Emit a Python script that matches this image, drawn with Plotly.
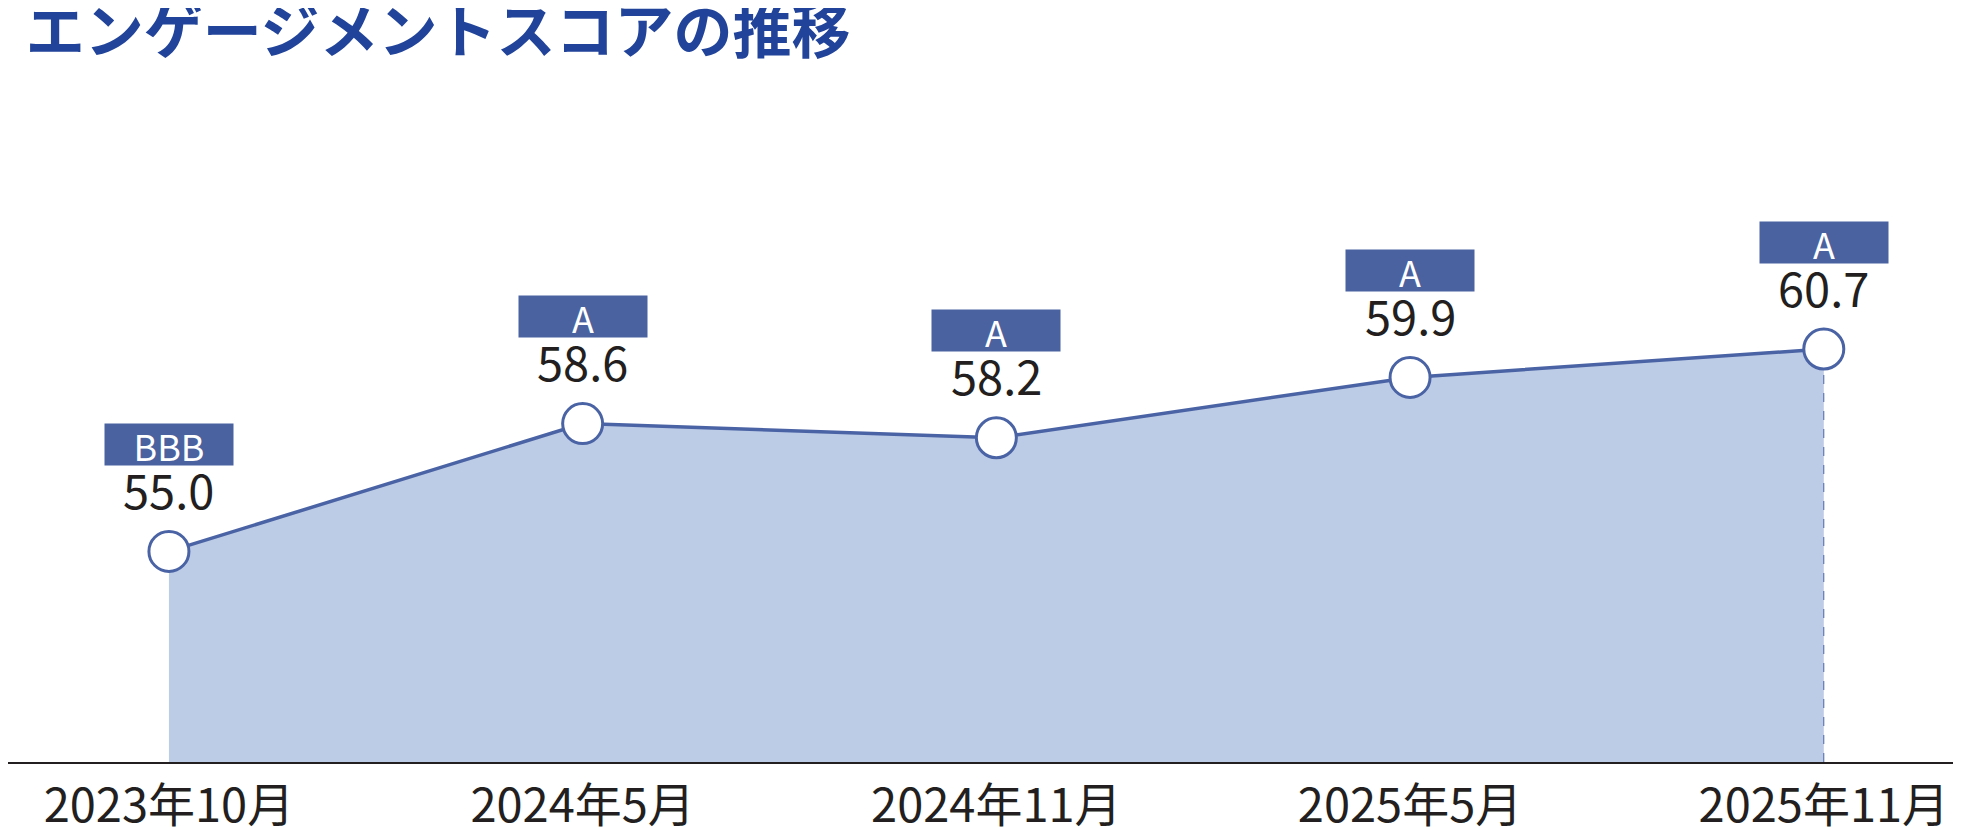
import plotly.graph_objects as go

# data
periods = ["2023年10月", "2024年5月", "2024年11月", "2025年5月", "2025年11月"]
scores = [55.0, 58.6, 58.2, 59.9, 60.7]
ratings = ["BBB", "A", "A", "A", "A"]

FONT = "Noto Sans CJK JP"
LINE_BLUE = "#4a63a4"
BOX_BLUE = "#4a62a0"
FILL_BLUE = "#bccbe6"
TEXT_DARK = "#231f20"
TITLE_BLUE = "#21449a"

Y_MIN, Y_MAX = 49.07, 68.05

x = list(range(len(periods)))

fig = go.Figure()

# shaded area under the line
fig.add_trace(go.Scatter(
    x=x, y=scores, mode="lines", fill="tozeroy",
    fillcolor=FILL_BLUE, line=dict(width=0),
    hoverinfo="skip", showlegend=False,
))

# dashed drop line at the latest point
fig.add_trace(go.Scatter(
    x=[x[-1], x[-1]], y=[Y_MIN, scores[-1]], mode="lines",
    line=dict(color=LINE_BLUE, width=1, dash="dash"),
    hoverinfo="skip", showlegend=False,
))

# score line with open circle markers
fig.add_trace(go.Scatter(
    x=x, y=scores, mode="lines+markers",
    line=dict(color=LINE_BLUE, width=3.5),
    marker=dict(size=40, color="white", line=dict(color=LINE_BLUE, width=3)),
    showlegend=False,
))

for xi, s, r in zip(x, scores, ratings):
    # score value
    fig.add_annotation(
        x=xi, y=s, xref="x", yref="y", text=f"{s:.1f}", showarrow=False,
        yshift=63, font=dict(family=FONT, size=47, color=TEXT_DARK),
    )
    # rating badge
    fig.add_annotation(
        x=xi, y=s, xref="x", yref="y", text=r, showarrow=False,
        yshift=107, width=128, height=41, borderpad=0, bgcolor=BOX_BLUE,
        font=dict(family=FONT, size=36, color="white"),
    )

fig.update_layout(
    width=1961, height=828,
    margin=dict(l=0, r=0, t=80, b=74),
    paper_bgcolor="white", plot_bgcolor="white",
    title=dict(
        text="エンゲージメントスコアの推移",
        font=dict(family=FONT, size=59, color=TITLE_BLUE, weight="bold"),
        xref="container", yref="container",
        x=0.009, xanchor="left", y=0.971, yanchor="middle",
    ),
    font=dict(family=FONT),
)

fig.update_xaxes(
    range=[-0.389, 4.351],
    tickvals=x, ticktext=periods,
    tickfont=dict(family=FONT, size=47, color=TEXT_DARK),
    ticks="outside", ticklen=2, tickcolor="rgba(0,0,0,0)",
    showline=True, linecolor=TEXT_DARK, linewidth=2,
    showgrid=False, zeroline=False,
)
fig.update_yaxes(
    range=[Y_MIN, Y_MAX], visible=False, showgrid=False, zeroline=False,
)

fig.write_html("out.html")
